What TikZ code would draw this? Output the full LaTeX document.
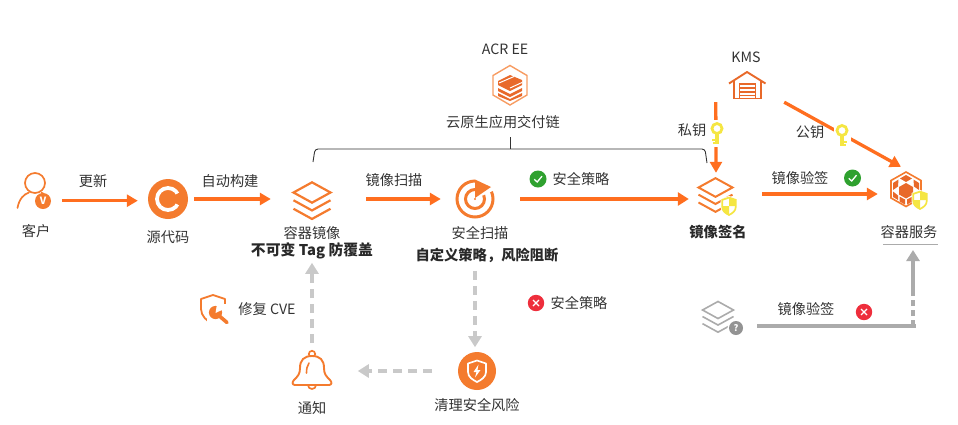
\documentclass[tikz,border=0pt]{standalone}
\usepackage{fontspec}
\setmainfont{Noto Sans CJK SC}
\usetikzlibrary{arrows.meta,calc}
\definecolor{og}{HTML}{F47B2E}
\definecolor{ogd}{HTML}{E8692A}
\definecolor{arr}{HTML}{FF6E1F}
\definecolor{lg}{HTML}{C9C9C9}
\definecolor{mg}{HTML}{ABABAB}
\definecolor{txt}{HTML}{333333}
\definecolor{ygl}{HTML}{F5E642}
\definecolor{okg}{HTML}{2FA12F}
\definecolor{bad}{HTML}{EE2E3C}
\tikzset{
 x=1pt,y=-1pt,
 ibox/.style={inner sep=0pt,minimum width=#1},
 lab/.style={font=\fontsize{14.2}{15}\selectfont,text=txt,inner sep=0pt},
 blab/.style={font=\fontsize{14.3}{15}\selectfont\bfseries,text=txt!80!black,inner sep=0pt},
 flow/.style={draw=arr,line width=3.3pt,-{Triangle[length=11pt,width=12pt]}},
 thick flow/.style={draw=arr,line width=4.6pt,-{Triangle[length=11pt,width=13pt]}},
 dashflow/.style={draw=lg,line width=4pt,dash pattern=on 9pt off 6pt,-{Triangle[length=11pt,width=13pt]}},
 gline/.style={draw=mg,line width=4pt},
}
% stack of layers: x, y, half-width, colour, width
\newcommand{\stackicon}[5]{%
 \begin{scope}[shift={(#1,#2)},x=1pt,y=-1pt,draw=#4,line width=#5pt,line join=miter]
  \draw (-#3,0) -- (0,-#3*0.55) -- (#3,0) -- (0,#3*0.55) -- cycle;
  \draw (-#3,#3*0.42) -- (0,#3*0.97) -- (#3,#3*0.42);
  \draw (-#3,#3*0.88) -- (0,#3*1.43) -- (#3,#3*0.88);
 \end{scope}}
% key: x, y of the bow centre, side of the teeth (+1 / -1)
\newcommand{\keyicon}[3]{%
 \begin{scope}[shift={(#1,#2)},x=1pt,y=-1pt]
  \fill[white] (-8.5,-9) rectangle (8.5,18);
  \draw[ygl,line width=2.8pt] (0,0) circle (5);
  \fill[ygl] (-1.6,5) rectangle (1.6,15);
  \fill[ygl] (#3*0.5,10) rectangle (#3*5,12);
  \fill[ygl] (#3*0.5,13) rectangle (#3*4,15);
 \end{scope}}
\newcommand{\shieldicon}[2]{%
 \begin{scope}[shift={(#1,#2)},x=1.12pt,y=-1.12pt]
  \path[fill=white,draw=white,line width=1pt] (-7,-6) -- (0,-8.5) -- (7,-6) -- (7,1) .. controls (7,5) and (3,7.5) .. (0,9) .. controls (-3,7.5) and (-7,5) .. (-7,1) -- cycle;
  \path[draw=ygl,line width=1.7pt] (-6,-5.5) -- (0,-7.5) -- (6,-5.5) -- (6,1) .. controls (6,4.5) and (3,6.5) .. (0,8) .. controls (-3,6.5) and (-6,4.5) .. (-6,1) -- cycle;
  \fill[ygl] (-6,0) -- (0,0) -- (0,8) .. controls (-3,6.5) and (-6,4.5) .. (-6,1) -- cycle;
  \fill[ygl] (0,0) -- (6,0) -- (6,-5.5) -- (0,-7.5) -- cycle;
 \end{scope}}
\newcommand{\okicon}[2]{%
 \fill[okg] (#1,#2) circle (8.5);
 \draw[white,line width=1.3pt] (#1-3.8,#2+0.3) -- (#1-0.8,#2+3) -- (#1+4,#2-2.8);}
\newcommand{\noicon}[2]{%
 \fill[bad] (#1,#2) circle (8.2);
 \draw[white,line width=1.2pt] (#1-3,#2-3) -- (#1+3,#2+3) (#1-3,#2+3) -- (#1+3,#2-3);}
\begin{document}
\begin{tikzpicture}
\useasboundingbox (0,0) rectangle (958,424);
% anchor boxes for connectors
\node[ibox=44pt,minimum height=40pt] (user) at (40,200.7) {};
\node[ibox=56pt,minimum height=40pt] (src) at (166,199) {};
\node[ibox=95pt,minimum height=40pt] (image) at (318.5,199) {};
\node[ibox=79pt,minimum height=40pt] (scan) at (480.5,199) {};
\node[ibox=73pt,minimum height=52pt] (sign) at (725.5,199) {};
\node[ibox=58pt,minimum height=54pt] (svc) at (907,194) {};
\node[ibox=68pt,minimum height=31pt] (kms) at (750,86.5) {};
\node[ibox=78pt,minimum height=10pt] (stackq) at (718,326) {};
\node[ibox=20pt,minimum height=76pt] (scanbelow) at (475,309) {};
\node[ibox=20pt,minimum height=80pt] (imagebelow) at (312,303) {};
\node[ibox=74pt,minimum height=20pt] (cleanbox) at (395,371) {};
\coordinate (corner) at (913,326);
\coordinate (gtop) at (913,293);
\coordinate (gtip) at (913,250);

% customer
\draw[og,line width=1.7pt] (35,183) circle (10);
\draw[og,line width=1.7pt,line cap=round] (17.5,208) .. controls (19,199) and (24,194) .. (29,192.5);
\draw[og,line width=1.7pt] (41,192.5) -- (44,194);
\fill[og] (43,201) circle (8);
\node[font=\fontsize{10}{10}\selectfont\bfseries,text=white,inner sep=0pt] (vmark) at (43,201) {V};
\node[lab] (t1) at (36,231) {客户};
% source code
\fill[og] (168,199) circle (20);
\draw[white,line width=3.8pt] (168,199) circle (11);
\fill[og] (168,199) -- (184,190) -- (184,208) -- cycle;
\node[lab] (t2) at (168,237) {源代码};
% image
\stackicon{312}{192.5}{18.5}{og}{2.2}
\node[lab] (t3) at (312,233) {容器镜像};
\node[blab,font=\fontsize{14.8}{15}\selectfont\bfseries] (t4) at (312,251) {不可变 Tag 防覆盖};
% scan
\draw[og,line width=3pt] (475,199) circle (18);
\draw[og,line width=3pt] (475,199) circle (9.5);
\fill[white] (475,199) -- (475,176) -- (497,176) -- (497,189) -- cycle;
\fill[og] (475,179.5) -- (491,187) -- (475,198) -- cycle;
\fill[og] (475,199) circle (1.2);
\node[lab] (t5) at (480,233) {安全扫描};
\node[blab] (t6) at (487,255) {自定义策略，风险阻断};
% ACR
\draw[og!75,line width=1.4pt] (510,65.5) -- (527,75.5) -- (527,95) -- (510,105) -- (493,95) -- (493,75.5) -- cycle;
\begin{scope}[ogd]
 \fill (510,75) -- (522,80) -- (522,85) -- (510,91) -- (498,85) -- (498,81) -- cycle;
 \fill (498,88) -- (510,94) -- (522,88) -- (522,91) -- (510,97) -- (498,91) -- cycle;
 \fill (498,93) -- (510,99) -- (522,93) -- (522,96) -- (510,101) -- (498,96) -- cycle;
\end{scope}
\draw[white,line width=1pt] (499,83) -- (514,76.5) (510,88) -- (522,82.5);
\node[lab] (t7) at (505,49) {ACR EE};
\node[lab] (t8) at (503,122) {云原生应用交付链};
\node[inner sep=0pt,minimum size=1pt] (tickend) at (510,137) {};
\draw[txt,line width=.9pt,rounded corners=3pt] (313,162) -- (315,149) -- (705,149) -- (707,163);
\draw[txt,line width=.9pt] (tickend.center) -- (510,149);
% KMS
\node[lab] (t9) at (746,57) {KMS};
\draw[ogd,line width=1.9pt,line join=round] (729,83.5) -- (747,72) -- (765.5,83.5);
\draw[ogd,line width=1.9pt] (734,81) -- (734,98.5) -- (761,98.5) -- (761,81);
\draw[ogd,line width=1.6pt] (739.5,84) rectangle (755.5,98.5);
\draw[ogd,line width=1.2pt] (739.5,88) -- (755.5,88) (739.5,92) -- (755.5,92) (739.5,95.5) -- (755.5,95.5);
% sign
\stackicon{715.5}{187.5}{17}{og}{2}
\shieldicon{729}{206}
\node[blab] (t10) at (718,232) {镜像签名};
% container service
\draw[og,line width=1.6pt] (906,172) -- (921,180.5) -- (921,198) -- (906,206.5) -- (891,198) -- (891,180.5) -- cycle;
\begin{scope}[ogd,shift={(-1,0)}]
 \fill (907,183) -- (914,187) -- (914,194.5) -- (907,198.5) -- (900,194.5) -- (900,187) -- cycle;
 \fill (907,175) -- (913,178.5) -- (907,182) -- (901,178.5) -- cycle;
 \fill (914.5,179.5) -- (920,183) -- (920,190) -- (915,186.5) -- cycle;
 \fill (899.5,179.5) -- (894,183) -- (894,190) -- (899,186.5) -- cycle;
 \fill (894,191.5) -- (899,195.5) -- (899,200) -- (894,197) -- cycle;
 \fill (915,195.5) -- (920,191.5) -- (920,197) -- (915,200) -- cycle;
 \fill (900.5,196.5) -- (906,199.5) -- (906,204.5) -- (900.5,201.5) -- cycle;
 \fill (913.5,196.5) -- (908,199.5) -- (908,204.5) -- (913.5,201.5) -- cycle;
\end{scope}
\shieldicon{920}{200}
\node[lab] (t11) at (909,232) {容器服务};
\draw[mg,line width=1.8pt] (883,244.5) -- (938,244.5);

% main connectors
\draw[flow] (user.east) -- (user.east -| src.west);
\draw[flow] (src.east) -- (src.east -| image.west);
\draw[flow] (image.east) -- (scan.west);
\draw[thick flow] (scan.east) -- (sign.west);
\draw[flow] ([yshift=5pt]sign.east) -- (svc.west);
\draw[flow] (kms.south west) -- ([xshift=-9.5pt]sign.north);
\draw[flow] (kms.south east) -- ([xshift=-6pt]svc.north);
\keyicon{717}{128.5}{-1}
\keyicon{842}{130.5}{1}

\node[lab] (t12) at (93,181) {更新};
\node[lab] (t13) at (230,181) {自动构建};
\node[lab] (t14) at (394,180) {镜像扫描};
\okicon{538}{179}
\node[lab] (t15) at (581,179) {安全策略};
\node[lab] (t16) at (692,130) {私钥};
\node[lab] (t17) at (810,132) {公钥};
\node[lab] (t18) at (800,178) {镜像验签};
\okicon{852.5}{178}

% lower gray part
\draw[dashflow] (scanbelow.north) -- (scanbelow.south);
\draw[dashflow] (imagebelow.south) -- (imagebelow.north);
\draw[dashflow] (cleanbox.east) -- (cleanbox.west);
\noicon{536}{303}
\node[lab] (t19) at (579,303) {安全策略};
% wrench shield
\draw[og,line width=1.8pt,line join=round] (213,295) -- (225,299) -- (225,309) .. controls (225,316) and (219,321) .. (213,324.5) .. controls (207,321) and (201,316) .. (201,309) -- (201,299) -- cycle;
\fill[white] (207,304) rectangle (230,327);
\draw[og,line width=3.6pt,line cap=round] (217,314) -- (227,322.5);
\fill[og] (215.5,312.5) circle (6.6);
\fill[white] (215.5,313) -- (217,304) -- (224,309) -- cycle;
\node[lab] (t20) at (267,309) {修复 CVE};
% bell
\draw[og,line width=1.7pt] (312,354) circle (3.2);
\draw[og,line width=1.7pt] (312,385) circle (4);
\draw[og,line width=1.9pt,line join=round,fill=white] (295,385) .. controls (292,385) and (292,382) .. (294,380) .. controls (298,376) and (300,374) .. (300,368) .. controls (300,360) and (304,356) .. (312,356) .. controls (320,356) and (324,360) .. (324,368) .. controls (324,374) and (326,376) .. (330,380) .. controls (332,382) and (332,385) .. (329,385) -- cycle;
\draw[og,line width=1.6pt,line cap=round] (306.5,373) .. controls (306.5,369) and (307,366) .. (309,363);
\node[lab] (t21) at (312,408) {通知};
% clean shield
\fill[og] (477,371) circle (19);
\path[draw=white,line width=1.7pt,line join=round] (477,360.5) -- (486,363.5) -- (486,372) .. controls (486,377) and (481,380) .. (477,382) .. controls (473,380) and (468,377) .. (468,372) -- (468,363.5) -- cycle;
\fill[white] (478.5,364.5) -- (473.5,372) -- (476.5,372) -- (475,377.5) -- (480.5,370) -- (477.5,370) -- cycle;
\node[lab] (t22) at (477,405) {清理安全风险};
% gray stack
\stackicon{718}{310}{15.5}{mg}{1.6}
\fill[white] (736,328) circle (8.5);
\fill[gray!85] (736,328) circle (7);
\node[font=\fontsize{9}{9}\selectfont\bfseries,text=white,inner sep=0pt] (qmark) at (736,328) {?};
% gray lines
\draw[gline] (stackq.east) -- ([xshift=3pt]corner);
\draw[draw=mg,line width=4pt,dash pattern=on 6pt off 4pt] (corner) -- (gtop);
\draw[draw=mg,line width=4pt,-{Triangle[length=11pt,width=13pt]}] (gtop) -- (gtip);
\node[lab] (t23) at (806,309) {镜像验签};
\noicon{864}{312}
\end{tikzpicture}
\end{document}
